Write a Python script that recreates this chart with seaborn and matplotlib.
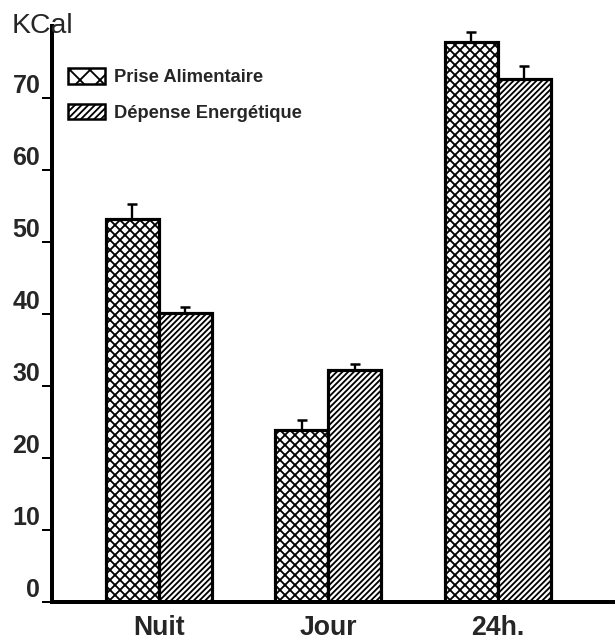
import matplotlib
matplotlib.use("Agg")
import matplotlib.pyplot as plt
from matplotlib.patches import Patch
import seaborn as sns
import pandas as pd

# Energy balance per period (kcal), mean with upper error bar
periodes = ["Nuit", "Jour", "24h."]
mesures = ["Prise Alimentaire", "Dépense Energétique"]
prise = [53.2, 23.9, 77.8]
prise_err = [2.1, 1.4, 1.4]
depense = [40.2, 32.2, 72.6]
depense_err = [0.8, 0.9, 1.8]
yticks = [0, 10, 20, 30, 40, 50, 60, 70]

df = pd.DataFrame({
    "periode": periodes * 2,
    "mesure": [mesures[0]] * 3 + [mesures[1]] * 3,
    "kcal": prise + depense,
})

sns.set_theme(style="white")
plt.rcParams["font.family"] = ["Liberation Sans", "DejaVu Sans"]
plt.rcParams["hatch.linewidth"] = 1.1
plt.rcParams["hatch.color"] = "black"

DPI = 120
fig = plt.figure(figsize=(615 / DPI, 642 / DPI), dpi=DPI)
ax = fig.add_axes([52 / 615, 40 / 642, 1 - 52 / 615, 576 / 642])

sns.barplot(data=df, x="periode", y="kcal", hue="mesure", order=periodes,
            hue_order=mesures, palette=["white", "white"], edgecolor="black",
            linewidth=1.9, width=0.625, gap=0, errorbar=None, legend=False,
            saturation=1, ax=ax)

hatches = ["xxxx", "///////"]
errs = [prise_err, depense_err]
vals = [prise, depense]
for cont, h, v, e in zip(ax.containers, hatches, vals, errs):
    xs = []
    for bar in cont.patches:
        bar.set_hatch(h)
        bar.set_edgecolor("black")
        xs.append(bar.get_x() + bar.get_width() / 2)
    ax.errorbar(xs, v, yerr=[[0] * len(e), e], fmt="none", ecolor="black",
                elinewidth=1.4, capsize=3.2, capthick=1.5, zorder=1)

ax.set_ylim(0, 80)
ax.set_xlim(-0.63, 2.69)
ax.set_yticks(yticks)
ax.set_yticklabels([str(t) for t in yticks], fontsize=15, fontweight="bold")
for lbl in ax.get_yticklabels():
    lbl.set_verticalalignment("bottom")
ax.tick_params(axis="y", direction="out", length=6, width=1.2, pad=1,
               left=True, color="black")
ax.tick_params(axis="x", length=0, pad=8)
ax.set_xticks(range(len(periodes)))
ax.set_xticklabels(periodes, fontsize=16, fontweight="bold")
ax.set_xlabel("")
ax.set_ylabel("")

for side in ["top", "right"]:
    ax.spines[side].set_visible(False)
for side in ["left", "bottom"]:
    ax.spines[side].set_linewidth(2.4)
    ax.spines[side].set_color("black")

fig.text(12 / 615, 1 - 33 / 642, "KCal", fontsize=17, fontweight="normal",
         ha="left", va="baseline")

handles = [Patch(facecolor="white", edgecolor="black", hatch="xx", linewidth=1.5),
           Patch(facecolor="white", edgecolor="black", hatch="//////", linewidth=1.5)]
ax.legend(handles, mesures, loc="upper left",
          bbox_to_anchor=(68 / 615, 1 - 68 / 642), bbox_transform=fig.transFigure,
          frameon=False, borderpad=0, borderaxespad=0, handlelength=2.0,
          handleheight=0.95, labelspacing=0.95, handletextpad=0.5,
          prop={"weight": "bold", "size": 11})

fig.savefig("out.png", dpi=DPI)
